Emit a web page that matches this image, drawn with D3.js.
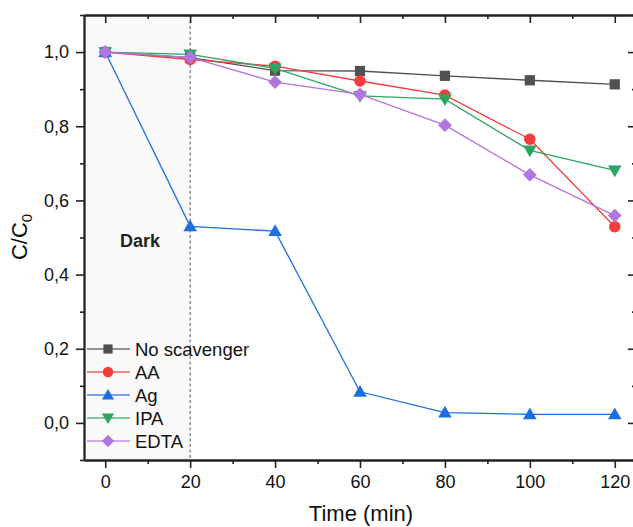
<!DOCTYPE html>
<html>
<head>
<meta charset="utf-8">
<script src="https://cdn.jsdelivr.net/npm/d3@7"></script>
<style>
  html, body { margin: 0; padding: 0; background: #fff; }
  svg { display: block; font-family: "Liberation Sans", Arial, sans-serif; }
</style>
</head>
<body>
<svg id="chart" width="633" height="527"></svg>
<script>
// Sampling times (min)
const times = [0, 20, 40, 60, 80, 100, 120];

// C/C0 for each scavenger
const noScavenger = [1.0, 0.985, 0.950, 0.949, 0.936, 0.924, 0.913];
const aa          = [1.0, 0.980, 0.962, 0.922, 0.884, 0.765, 0.529];
const ag          = [1.0, 0.530, 0.517, 0.084, 0.028, 0.023, 0.023];
const ipa         = [1.0, 0.994, 0.956, 0.882, 0.873, 0.735, 0.681];
const edta        = [1.0, 0.986, 0.919, 0.886, 0.803, 0.669, 0.559];

const seriesNames  = ["No scavenger", "AA", "Ag", "IPA", "EDTA"];
const seriesColors = ["#505050", "#f43c3c", "#1c6fe0", "#2aa660", "#b474e0"];
const seriesShapes = ["square", "circle", "triangleUp", "triangleDown", "diamond"];
const seriesValues = [noScavenger, aa, ag, ipa, edta];

const xTicks = [0, 20, 40, 60, 80, 100, 120];
const yTicks = [0.0, 0.2, 0.4, 0.6, 0.8, 1.0];
const darkEnd = 20;

const svg = d3.select("#chart");
const x = d3.scaleLinear().domain([-5, 125]).range([84, 636]);
const y = d3.scaleLinear().domain([-0.1, 1.1]).range([460, 15]);

// Dark (adsorption) period shading
svg.append("rect")
  .attr("x", x(-5)).attr("y", y(1.1))
  .attr("width", x(darkEnd) - x(-5))
  .attr("height", y(-0.1) - y(1.1))
  .attr("fill", "#f9f9f9");

svg.append("line")
  .attr("x1", x(darkEnd)).attr("x2", x(darkEnd))
  .attr("y1", y(1.1)).attr("y2", y(-0.1))
  .attr("stroke", "#555").attr("stroke-width", 1)
  .attr("stroke-dasharray", "3,2.5");

svg.append("text")
  .attr("x", 120).attr("y", 247)
  .attr("font-weight", "bold").attr("font-size", 18).attr("fill", "#222")
  .text("Dark");

// Axes
const fmt = d => d3.format(".1f")(d).replace(".", ",");
const styleAxis = g => {
  g.select(".domain").attr("stroke", "#222").attr("stroke-width", 1.8);
  g.selectAll(".tick line").attr("stroke", "#222").attr("stroke-width", 1.6);
  g.selectAll(".tick text").attr("fill", "#111").attr("font-size", 18)
    .attr("font-family", "Liberation Sans, Arial, sans-serif");
};

const xMinor = d3.range(10, 130, 20);
const yMinor = d3.range(-0.1, 1.11, 0.2).map(v => +v.toFixed(1));

// bottom
svg.append("g").attr("transform", `translate(0,${y(-0.1)})`)
  .call(d3.axisBottom(x).tickValues(xTicks).tickSize(8).tickPadding(7).tickSizeOuter(0))
  .call(styleAxis);
svg.append("g").attr("transform", `translate(0,${y(-0.1)})`)
  .call(d3.axisBottom(x).tickValues(xMinor).tickSize(4).tickFormat("").tickSizeOuter(0))
  .call(styleAxis);
// top (ticks inward)
svg.append("g").attr("transform", `translate(0,${y(1.1)})`)
  .call(d3.axisBottom(x).tickValues(xTicks).tickSize(8).tickFormat("").tickSizeOuter(0))
  .call(styleAxis);
svg.append("g").attr("transform", `translate(0,${y(1.1)})`)
  .call(d3.axisBottom(x).tickValues(xMinor).tickSize(4).tickFormat("").tickSizeOuter(0))
  .call(styleAxis);
// left
svg.append("g").attr("transform", `translate(${x(-5)},0)`)
  .call(d3.axisLeft(y).tickValues(yTicks).tickSize(8).tickPadding(7).tickFormat(fmt).tickSizeOuter(0))
  .call(styleAxis);
svg.append("g").attr("transform", `translate(${x(-5)},0)`)
  .call(d3.axisLeft(y).tickValues(yMinor).tickSize(4).tickFormat("").tickSizeOuter(0))
  .call(styleAxis);
// right (ticks inward)
svg.append("g").attr("transform", `translate(${x(125)},0)`)
  .call(d3.axisRight(y).tickValues(yTicks).tickSize(-8).tickFormat("").tickSizeOuter(0))
  .call(styleAxis);
svg.append("g").attr("transform", `translate(${x(125)},0)`)
  .call(d3.axisRight(y).tickValues(yMinor).tickSize(-4).tickFormat("").tickSizeOuter(0))
  .call(styleAxis);

// Axis titles
svg.append("text")
  .attr("x", 361).attr("y", 521)
  .attr("text-anchor", "middle").attr("font-size", 22).attr("fill", "#111")
  .text("Time (min)");

const yt = svg.append("text")
  .attr("transform", `translate(27,237) rotate(-90)`)
  .attr("text-anchor", "middle").attr("font-size", 22).attr("fill", "#111");
yt.append("tspan").text("C/C");
yt.append("tspan").attr("font-size", 15).attr("dy", 5).text("0");

// Markers
const symbolFor = {
  square: d3.symbol().type(d3.symbolSquare).size(105),
  circle: d3.symbol().type(d3.symbolCircle).size(105),
  triangleUp: d3.symbol().type(d3.symbolTriangle).size(80),
  triangleDown: d3.symbol().type(d3.symbolTriangle).size(80),
  diamond: d3.symbol().type(d3.symbolSquare).size(95)
};
function drawMarker(g, shape, cx, cy, color, scale) {
  const rot = shape === "triangleDown" ? 180 : shape === "diamond" ? 45 : 0;
  const dy = shape === "triangleUp" ? 1 : shape === "triangleDown" ? -1 : 0;
  g.append("path")
    .attr("d", symbolFor[shape]())
    .attr("transform", `translate(${cx},${cy + dy}) rotate(${rot}) scale(${scale})`)
    .attr("fill", color);
}

const line = d3.line().x(d => x(d[0])).y(d => y(d[1]));

seriesValues.forEach((vals, i) => {
  const pts = times.map((t, j) => [t, vals[j]]);
  const g = svg.append("g");
  g.append("path").datum(pts).attr("d", line)
    .attr("fill", "none").attr("stroke", seriesColors[i]).attr("stroke-width", 1.3);
  pts.forEach(p => drawMarker(g, seriesShapes[i], x(p[0]), y(p[1]), seriesColors[i], 1));
});

// Legend
const legend = svg.append("g");
seriesNames.forEach((name, i) => {
  const yy = 349 + i * 23;
  legend.append("line").attr("x1", 87).attr("x2", 130).attr("y1", yy).attr("y2", yy)
    .attr("stroke", seriesColors[i]).attr("stroke-width", 1.3).attr("opacity", 0.8);
  drawMarker(legend, seriesShapes[i], 108, yy, seriesColors[i], 0.9);
  legend.append("text").attr("x", 135).attr("y", yy)
    .attr("dominant-baseline", "central").attr("font-size", 18.5).attr("fill", "#111")
    .text(name);
});
</script>
</body>
</html>
